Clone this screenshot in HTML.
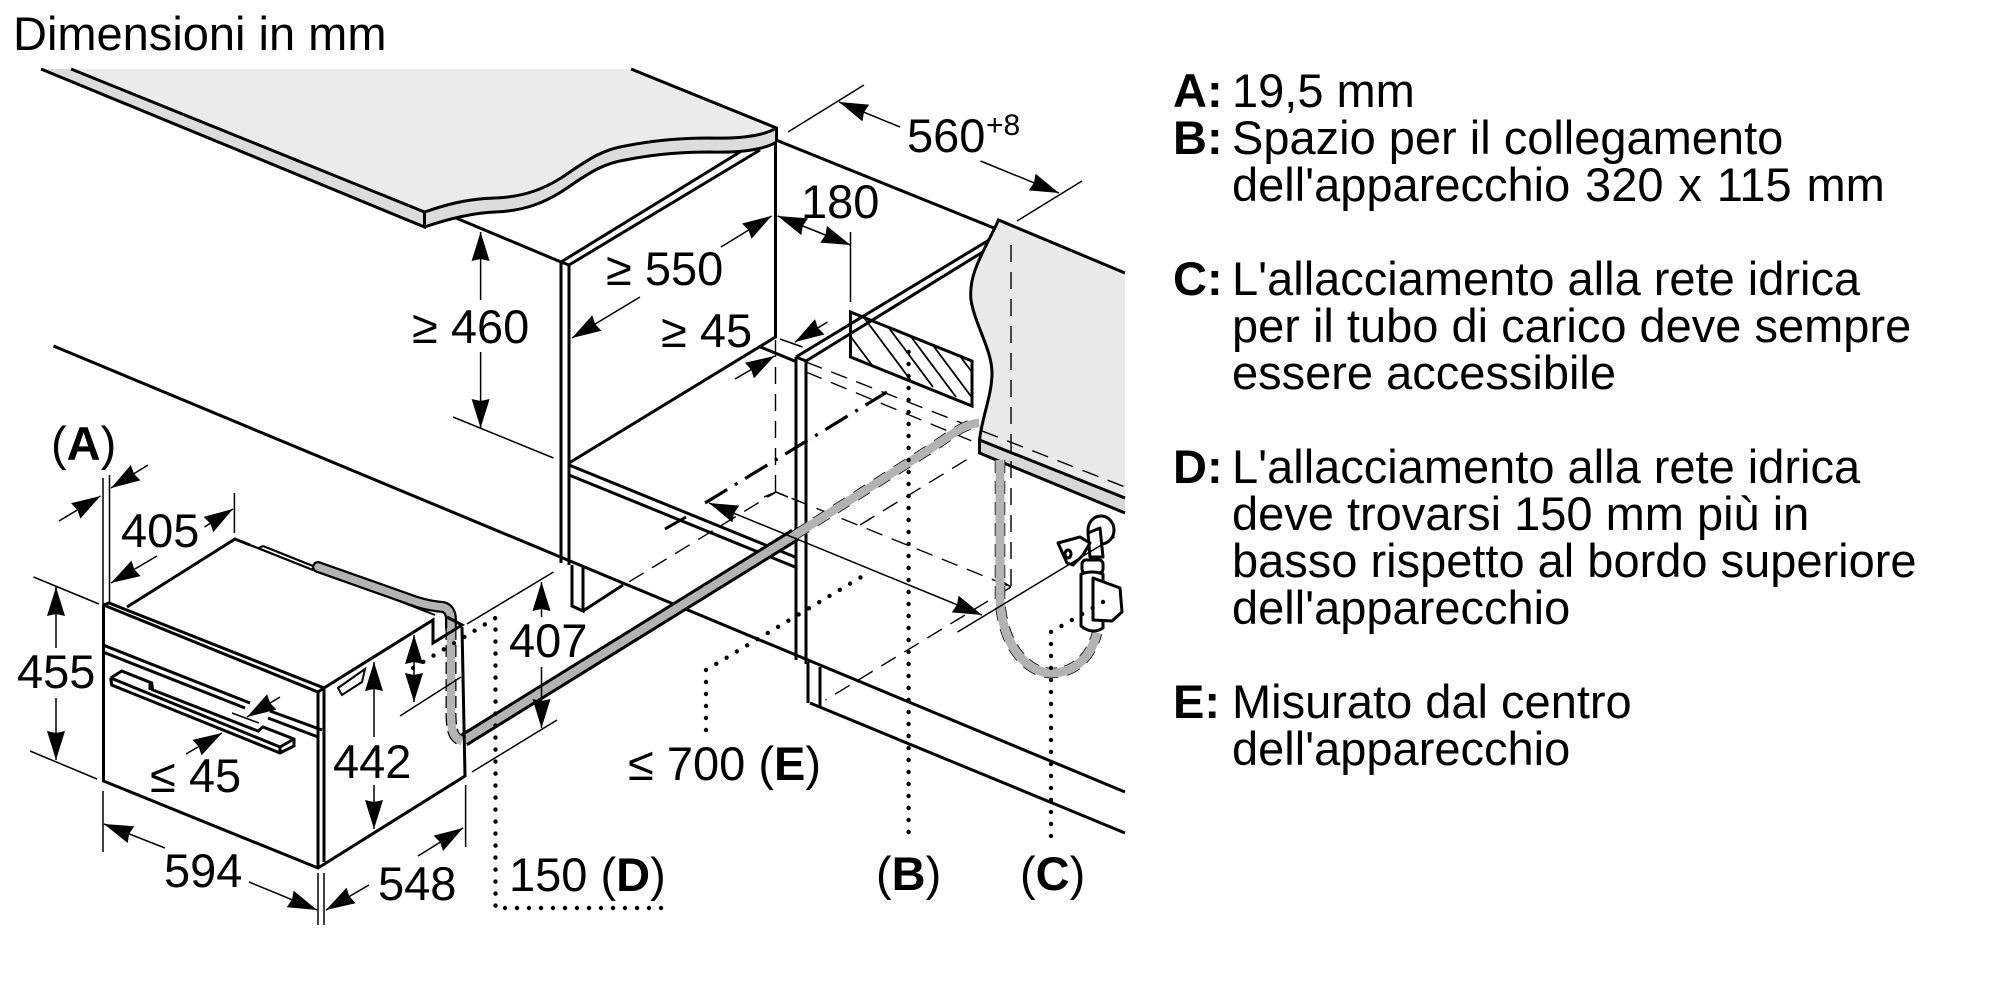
<!DOCTYPE html>
<html><head><meta charset="utf-8"><style>
html,body{margin:0;padding:0;background:#fff}
svg{display:block}
text{font-family:"Liberation Sans",sans-serif;font-size:47px;fill:#000}
.m{fill:none;stroke:#000;stroke-width:3;stroke-linejoin:miter}
.t{fill:none;stroke:#000;stroke-width:1.5}
.d{fill:none;stroke:#000;stroke-width:1.4;stroke-dasharray:17 10}
.p{fill:none;stroke:#000;stroke-width:4.4;stroke-linecap:round;stroke-dasharray:0 12}
.b{font-weight:bold}
</style></head><body>
<svg width="2000" height="1000" viewBox="0 0 2000 1000" xmlns="http://www.w3.org/2000/svg">
<defs>
<marker id="a" markerUnits="userSpaceOnUse" markerWidth="29" markerHeight="18" viewBox="0 0 29 18" refX="29" refY="9" orient="auto-start-reverse"><path d="M0,0 L29,9 L0,18 L2,9z" fill="#000"/></marker>
<clipPath id="h"><polygon points="850.5,312 972,361 972,406 850.5,357"/></clipPath>
</defs>
<rect width="2000" height="1000" fill="#fff"/>

<text x="13" y="50">Dimensioni in mm</text>

<!-- left countertop -->
<path d="M71,69 L631,69 L776.5,128 C765,135 745,139 710,138 C680,138 650,141 625,146 C600,150 585,162 561,178 C545,188 525,197 495,198 C465,199 445,205 424.5,212 Z" fill="#ebebeb"/>
<path d="M41,69 L71,69 L424.5,212 C445,205 465,199 495,198 C525,197 545,188 561,178 C585,162 600,150 625,146 C650,141 680,138 710,138 C745,139 765,135 776.5,128 L776.5,142 C765,149 745,153 710,152 C680,152 650,155 625,160 C600,164 585,176 561,192 C545,202 525,211 495,212 C470,213 445,220 424.5,227 Z" fill="#dcdcdc"/>
<path class="m" d="M41,69 L424.5,227 L424.5,212 L71,69"/>
<path class="m" d="M631,69 L776.5,128 L776.5,142"/>
<path class="m" d="M424.5,212 C445,205 465,199 495,198 C525,197 545,188 561,178 C585,162 600,150 625,146 C650,141 680,138 710,138 C745,139 765,135 776.5,128"/>
<path class="m" d="M424.5,227 C445,220 470,213 495,212 C525,211 545,202 561,192 C585,176 600,164 625,160 C650,155 680,152 710,152 C745,153 765,149 776.5,142"/>

<!-- left cabinet -->
<path class="m" d="M456,218 L561,262 L561,563 M569,265 L569,565 M561,262 L740,152 M569,265 L760,150 M561,262 L569,265"/>
<path class="m" d="M775.5,142 L775.5,337 L569,463 M760.5,347 L797,362 M569,465 L795,557 M569,475 L795,567"/>

<!-- long baseline lines -->
<path class="m" d="M53.5,346 L1125,792 M810,703 L1125,833"/>
<path class="m" d="M572,565 L572,606 L583,611 L583,567 M583,611 L623,585"/>
<path class="m" d="M808,662 L808,703 M820,667 L820,708"/>

<!-- upper line, right cabinet -->
<path class="m" d="M776,140 L994,228"/>
<path class="m" d="M796,357 L796,660 M806,361 L806,664 M796,357 L994,237 M806,361 L986,250 M796,357 L806,361"/>

<!-- right countertop -->
<path d="M998.5,220 L1125,273 L1125,513 L979.5,453 L979.5,440 C982,417 992,395 992,373 C992,350 975,325 971,300 C968,273 985,250 998.5,220Z" fill="#e9e9e9"/>
<path d="M979.5,440 L1125,498 L1125,513 L979.5,453Z" fill="#d8d8d8"/>
<path class="m" d="M1125,273 L998.5,220 C985,250 968,273 971,300 C975,325 992,350 992,373 C992,395 982,417 979.5,440 L979.5,453 L1125,513 M979.5,440 L1125,498"/>

<!-- hatched area -->
<g clip-path="url(#h)">
<path d="M842,325 L892,392 M862,315 L912,382 M883,320 L933,387 M906,330 L956,397 M929,340 L979,407 M954,348 L1004,415" fill="none" stroke="#000" stroke-width="1.8"/>
</g>
<polygon class="m" points="850.5,312 972,361 972,406 850.5,357"/>

<!-- dashed hidden lines -->
<path class="d" d="M806,362 L1125,487 M806,372 L979,444"/>
<path class="d" d="M775.5,340 L775.5,492 M1011,245 L1011,587"/>
<path class="d" d="M583,610 L776,492 L1011,587 M860,525 L971,457 M1011,587 L825.5,700"/>
<path class="t" d="M764,497 L776,492 L788,497 M1000,580 L1011,587"/>

<!-- centre line -->
<path d="M705,503 L887,392" fill="none" stroke="#000" stroke-width="3.2" stroke-dasharray="26 9 3 9"/>
<path class="m" d="M665,529 L686,517"/>

<!-- hoses -->
<path d="M464,740 L795,535" fill="none" stroke="#000" stroke-width="14"/>
<path d="M464,740 L795,535" fill="none" stroke="#b3b3b3" stroke-width="8"/>
<path d="M795,535 L933,447 C955,432 965,424 979,423" fill="none" stroke="#000" stroke-width="10" stroke-dasharray="14 10"/>
<path d="M795,535 L933,447 C955,432 965,424 979,423" fill="none" stroke="#b3b3b3" stroke-width="8.5"/>

<!-- rear bar on oven -->
<path class="m" style="stroke-width:2.2" d="M250,545 L313,570 M263,546 L313,566 M263,546 L259,548"/>
<path class="m" style="stroke-width:2" d="M320,570 L435,615"/>
<path d="M318,567 L417,602 Q430,606 443,607 Q451,609 451,620 L451,628" fill="none" stroke="#000" stroke-width="12" stroke-linecap="round"/>
<path d="M318,567 L417,602 Q430,606 443,607 Q451,609 451,620 L451,632" fill="none" stroke="#b3b3b3" stroke-width="7.5" stroke-linecap="round"/>
<path d="M451,628 L451,712 C451,730 453,738 462,741" fill="none" stroke="#000" stroke-width="11" stroke-dasharray="12 5"/>
<path d="M451,628 L451,712 C451,730 453,738 462,741" fill="none" stroke="#b3b3b3" stroke-width="8.5"/>

<path d="M1000,460 L1000,600 C1003,650 1030,673 1051,673 C1072,673 1090,660 1097,633" fill="none" stroke="#000" stroke-width="10.5" stroke-dasharray="13 8"/>
<path d="M1000,460 L1000,600 C1003,650 1030,673 1051,673 C1072,673 1090,660 1097,633" fill="none" stroke="#b3b3b3" stroke-width="9"/>

<!-- valve -->
<g fill="#fff" stroke="#000" stroke-width="3" stroke-linejoin="round">
<ellipse cx="1101" cy="530" rx="13" ry="14"/>
<polygon points="1088,533 1100,528 1103,557 1090,557"/>
<polygon points="1058,543 1080,537 1090,543 1083,555 1073,565 1067,563"/>
<ellipse cx="1068" cy="554" rx="3" ry="4"/>
<rect x="1082" y="560" width="21" height="13" rx="4"/>
<path d="M1081,574 Q1092,570 1103,574 L1103,628 Q1092,635 1081,626Z"/>
<polygon points="1093,578 1120,588 1122,612 1112,621 1093,620"/>
</g>
<path class="t" d="M957.6,632 L1114.5,537"/>

<!-- oven -->
<path class="m" d="M103.5,605 L103.5,781 L318,868 L465,776 L462,627 M318,692 L318,868 M324,688 L324,862"/>
<path class="m" d="M103.5,605 L318,692 L324,688 L109,603 L103.5,605 M127,607 L235,539 L250,545 M324,688 L433,620 L433,643 L462,625 L447,617"/>
<path class="m" d="M103,645 L250,703 M270,711 L322,730 M103,652 L245,708 M268,718 L318,737"/>
<path class="m" d="M110.7,678 L121.7,671 L151.7,683 L152.7,691 M110.7,678 L111.7,685 L280,753 L294,746 L294,739 L263,727 L258,731 L153,690 M110.7,678 L280,747 L294,739 M280,747 L280,753 M150,683 L150,690"/>
<path class="m" style="stroke-width:2" stroke-linejoin="round" d="M338,688 L365,669 L362,682 L342,695Z"/>

<!-- dimension lines -->
<g class="t">
<path d="M480.6,300 L480.6,232" marker-end="url(#a)"/>
<path d="M480.6,352 L480.6,428" marker-end="url(#a)"/>
<path d="M453,417 L553.5,458"/>
<path d="M640,297 L572,338" marker-end="url(#a)"/>
<path d="M721,247 L771.5,216" marker-end="url(#a)"/>
<path d="M735,379 L774.5,356" marker-end="url(#a)"/>
<path d="M827.5,322 L795,342" marker-end="url(#a)"/>
<path d="M780,339 L802.5,347"/>
<path d="M777.7,216 L850.5,245" marker-start="url(#a)" marker-end="url(#a)"/>
<path d="M850.5,232 L850.5,302"/>
<path d="M900,127 L839,102" marker-end="url(#a)"/>
<path d="M980.5,161 L1059,193" marker-end="url(#a)"/>
<path d="M864,85 L788,132 M1082,181 L1017,221"/>
<path d="M709,503 L982,615" marker-start="url(#a)" marker-end="url(#a)"/>
<path d="M148,465 L111,488" marker-end="url(#a)"/>
<path d="M59,521 L100.5,496" marker-end="url(#a)"/>
<path d="M103,478 L103,605 M109.5,475 L109.5,603"/>
<path d="M204.5,527 L233,509" marker-end="url(#a)"/>
<path d="M234.4,493 L234.4,533"/>
<path d="M157,556 L111,583" marker-end="url(#a)"/>
<path d="M56,648 L56,587" marker-end="url(#a)"/>
<path d="M56,698 L56,760" marker-end="url(#a)"/>
<path d="M33.5,577 L99,604 M30,751 L97,779"/>
<path d="M165,848 L104,824" marker-end="url(#a)"/>
<path d="M249,882 L317,910" marker-end="url(#a)"/>
<path d="M103,791 L103,852 M318,873 L318,925 M324,873 L324,925"/>
<path d="M369,885 L326,910" marker-end="url(#a)"/>
<path d="M418,856 L463,828" marker-end="url(#a)"/>
<path d="M465.6,785 L465.6,847"/>
<path d="M374,737 L374,662" marker-end="url(#a)"/>
<path d="M374,785 L374,829" marker-end="url(#a)"/>
<path d="M541.5,617 L541.5,582" marker-end="url(#a)"/>
<path d="M541.5,667 L541.5,728" marker-end="url(#a)"/>
<path d="M553.5,572 L467,624 M557,720 L472,772"/>
<path d="M280,697 L247,717" marker-end="url(#a)"/>
<path d="M186,754 L222,733" marker-end="url(#a)"/>
<path d="M232,713 L259,723"/>
<path d="M414,635 L414,702" marker-start="url(#a)" marker-end="url(#a)"/>
<path d="M400,716 L461,677"/>
</g>

<!-- dotted leaders -->
<path class="p" d="M413,668 L495.5,618 L495.5,908 L665,908"/>
<path class="p" d="M908.6,352 L908.6,843"/>
<path class="p" d="M1103,602 L1051,632 L1051,845"/>
<path class="p" d="M706,730 L706,670 L869.5,572"/>

<!-- dimension text -->
<text x="51" y="460">(<tspan class="b">A</tspan>)</text>
<text x="121" y="547">405</text>
<text x="17" y="688">455</text>
<text x="150" y="792">≤ 45</text>
<text x="333" y="778">442</text>
<text x="509" y="657">407</text>
<text x="164" y="887">594</text>
<text x="378" y="900">548</text>
<text x="509" y="891">150 (<tspan class="b">D</tspan>)</text>
<text x="628" y="780">≤ 700 (<tspan class="b">E</tspan>)</text>
<text x="876" y="890">(<tspan class="b">B</tspan>)</text>
<text x="1020" y="890">(<tspan class="b">C</tspan>)</text>
<text x="412" y="343">≥ 460</text>
<text x="606" y="285">≥ 550</text>
<text x="661" y="347">≥ 45</text>
<text x="801" y="218">180</text>
<text x="907" y="152">560</text>
<text x="986" y="135" style="font-size:30px">+8</text>

<!-- notes -->
<g>
<text x="1173" y="107" class="b">A:</text><text x="1232" y="107">19,5 mm</text>
<text x="1173" y="154" class="b">B:</text><text x="1232" y="154">Spazio per il collegamento</text>
<text x="1232" y="201" style="word-spacing:1.8px">dell'apparecchio 320 x 115 mm</text>
<text x="1173" y="295" class="b">C:</text><text x="1232" y="295">L'allacciamento alla rete idrica</text>
<text x="1232" y="342">per il tubo di carico deve sempre</text>
<text x="1232" y="389">essere accessibile</text>
<text x="1173" y="483" class="b">D:</text><text x="1232" y="483">L'allacciamento alla rete idrica</text>
<text x="1232" y="530">deve trovarsi 150 mm più in</text>
<text x="1232" y="577">basso rispetto al bordo superiore</text>
<text x="1232" y="624">dell'apparecchio</text>
<text x="1173" y="718" class="b">E:</text><text x="1232" y="718">Misurato dal centro</text>
<text x="1232" y="765">dell'apparecchio</text>
</g>
</svg>
</body></html>
